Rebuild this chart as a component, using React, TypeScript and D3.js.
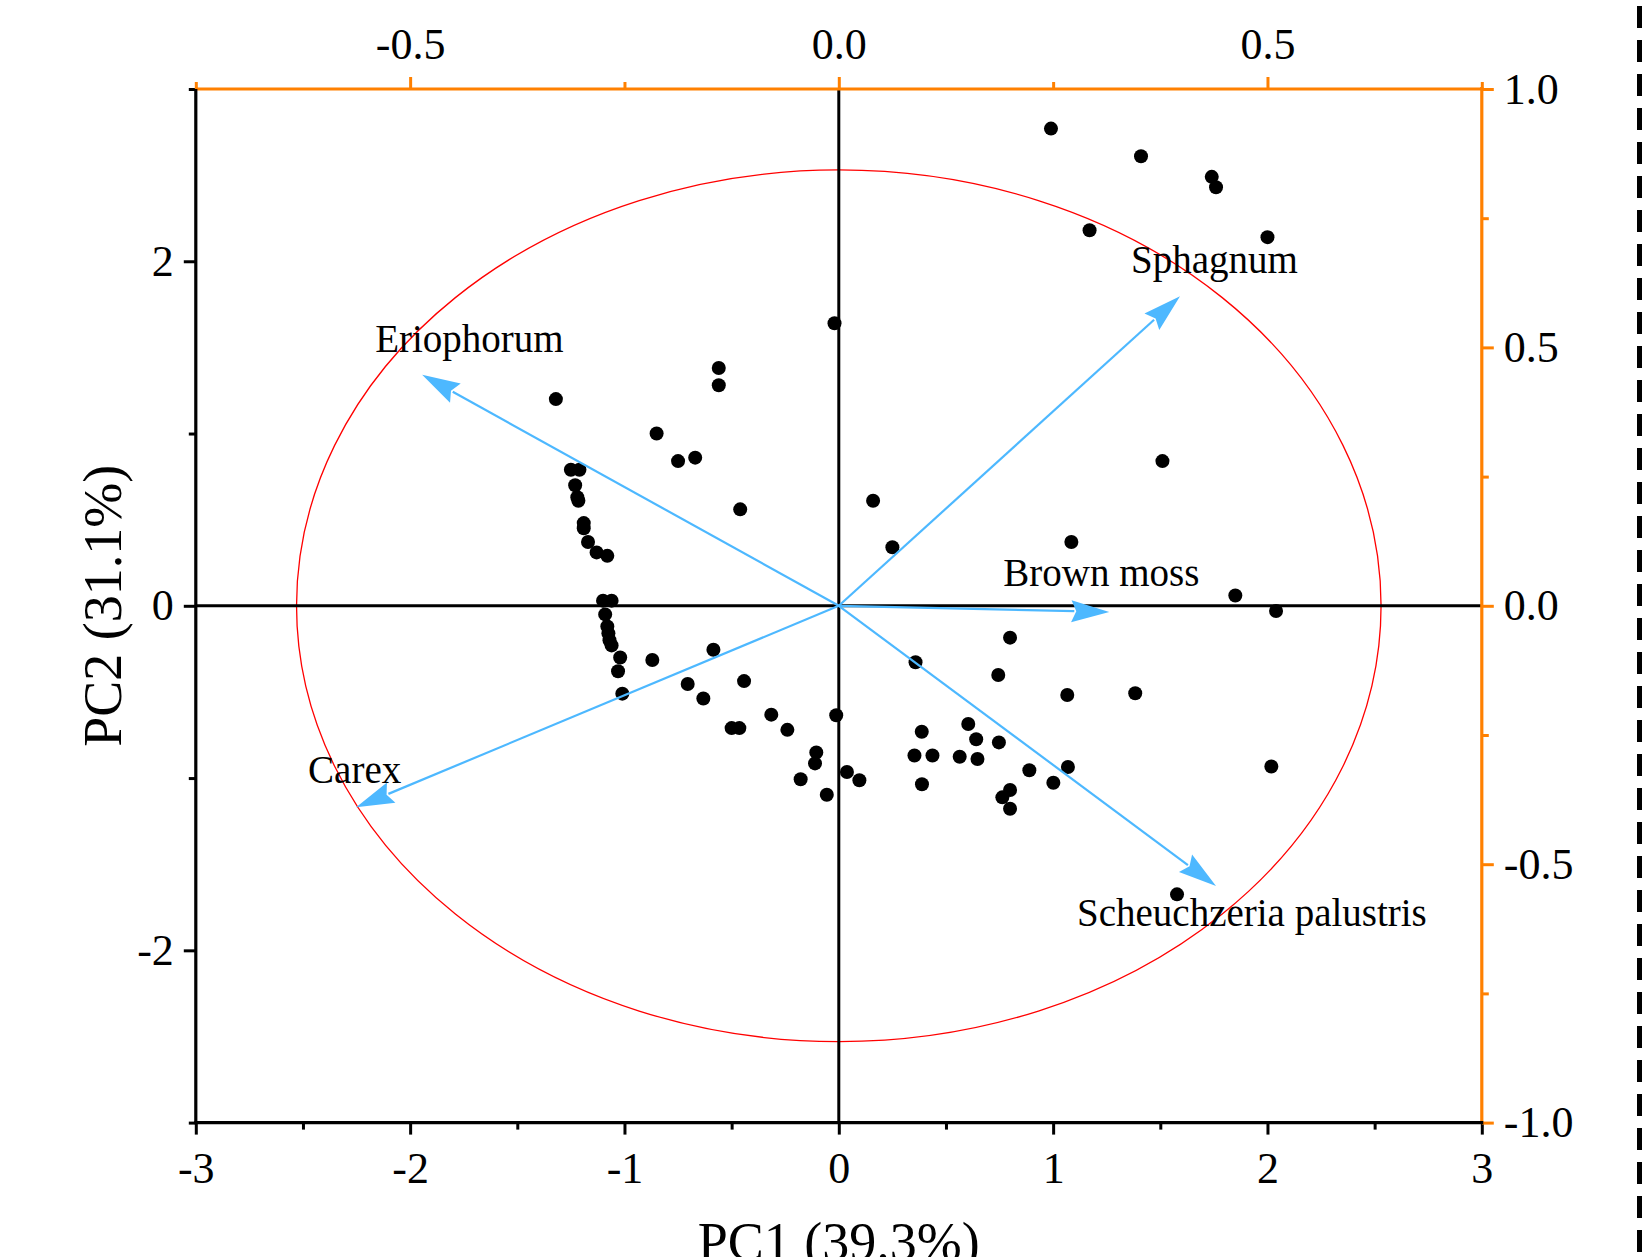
import React, { useEffect, useRef } from 'react';
import * as d3 from 'd3';

// sample scores (PC1, PC2)
const pc1Scores = [
  0.99, 1.41, 1.74, 1.76, 1.17, 2.0,
  -0.02, -0.56, -0.56, -1.32, -0.85, -0.75, -0.67,
  -1.25, -1.21, -1.23, -1.22, -1.215, -0.46, -1.19, -1.19, -1.17, -1.13, -1.08,
  0.16, 0.25, 1.51, 1.085, 1.85, 2.04,
  -1.1, -1.06, -1.09, -1.08, -1.075, -1.07, -1.06, -1.02, -1.03, -1.01,
  -0.87, -0.585, -0.705, -0.632, -0.442,
  -0.5, -0.464, -0.315, -0.24, -0.012, -0.105, -0.111, -0.178, -0.056, 0.038, 0.096,
  0.358, 0.387, 0.353, 0.437, 0.388, 0.564, 0.604, 0.641, 0.647, 0.747, 0.744, 0.799,
  0.889, 0.799, 0.763, 0.799, 1.001, 1.069, 1.066, 1.383, 2.018, 1.578,
];
const pc2Scores = [
  2.77, 2.61, 2.49, 2.43, 2.18, 2.14,
  1.64, 1.38, 1.28, 1.2, 1.0, 0.84, 0.86,
  0.79, 0.79, 0.7, 0.63, 0.61, 0.56, 0.48, 0.45, 0.37, 0.31, 0.29,
  0.61, 0.34, 0.84, 0.37, 0.06, -0.03,
  0.03, 0.03, -0.05, -0.12, -0.16, -0.2, -0.23, -0.3, -0.38, -0.51,
  -0.315, -0.255, -0.454, -0.538, -0.437,
  -0.71, -0.71, -0.632, -0.72, -0.635, -0.851, -0.915, -1.007, -1.097, -0.965, -1.013,
  -0.328, -0.731, -0.869, -0.869, -1.036, -0.876, -0.686, -0.775, -0.889, -0.793, -0.402, -0.185,
  -0.955, -1.069, -1.112, -1.178, -1.027, -0.936, -0.518, -0.508, -0.933, -1.675,
];

// species loadings (top / right axes)
const species = ['Sphagnum', 'Eriophorum', 'Brown moss', 'Carex', 'Scheuchzeria palustris'];
const loadingPC1 = [0.398, -0.486, 0.3155, -0.563, 0.44];
const loadingPC2 = [0.599, 0.447, -0.012, -0.39, -0.542];

const xTicks = [-3, -2, -1, 0, 1, 2, 3];
const xMinor = [-2.5, -1.5, -0.5, 0.5, 1.5, 2.5];
const yTicks = [-2, 0, 2];
const yMinor = [-3, -1, 1, 3];
const topTicks = [-0.5, 0, 0.5];
const topMinor = [-0.75, -0.25, 0.25, 0.75];
const rightTicks = [-1, -0.5, 0, 0.5, 1];
const rightMinor = [-0.75, -0.25, 0.25, 0.75];
const circleRadius = 2.53;

const W = 1642;
const H = 1257;
const left = 195.8, right = 1481.8, top = 89, bottom = 1122.6;
const FONT = '"Liberation Serif", "Times New Roman", serif';
const ORANGE = '#ff8000';
const BLUE = '#4db8ff';

// label offsets from arrow tips (pixels)
const labelOffsets = [[-49, -23], [-47, -23], [-106, -26], [-48, -24], [-139, 40]];

// plain hyphen instead of d3's unicode minus
const fmtInt = (d) => String(d);
const fmtOne = (d) => d3.format('.1f')(d).replace('\u2212', '-');

export default function App() {
  const ref = useRef<SVGSVGElement>(null);

  useEffect(() => {
    const svg = d3.select(ref.current);
    svg.selectAll('*').remove();

    const x = d3.scaleLinear().domain([-3, 3]).range([left, right]);
    const y = d3.scaleLinear().domain([-3, 3]).range([bottom, top]);
    const xTop = d3.scaleLinear().domain([-0.75, 0.75]).range([left, right]);
    const yRight = d3.scaleLinear().domain([-1, 1]).range([bottom, top]);

    // correlation circle
    svg.append('ellipse')
      .attr('cx', x(0)).attr('cy', y(0))
      .attr('rx', x(circleRadius) - x(0))
      .attr('ry', y(0) - y(circleRadius))
      .attr('fill', 'none')
      .attr('stroke', '#ff0000')
      .attr('stroke-width', 1.3);

    // zero lines
    svg.append('line')
      .attr('x1', x(0)).attr('x2', x(0)).attr('y1', top).attr('y2', bottom)
      .attr('stroke', '#000').attr('stroke-width', 3);
    svg.append('line')
      .attr('x1', left).attr('x2', right).attr('y1', y(0)).attr('y2', y(0))
      .attr('stroke', '#000').attr('stroke-width', 3);

    // sample points
    svg.append('g').selectAll('circle')
      .data(pc1Scores.map((v, i) => [v, pc2Scores[i]]))
      .enter()
      .append('circle')
      .attr('cx', d => x(d[0]))
      .attr('cy', d => y(d[1]))
      .attr('r', 7)
      .attr('fill', '#000');

    // species arrows
    const arrows = svg.append('g');
    species.forEach((name, i) => {
      const x0 = xTop(0), y0 = yRight(0);
      const x1 = xTop(loadingPC1[i]), y1 = yRight(loadingPC2[i]);
      const ang = Math.atan2(y1 - y0, x1 - x0);
      const len = 38, half = 11;
      const bx = x1 - len * Math.cos(ang), by = y1 - len * Math.sin(ang);
      arrows.append('line')
        .attr('x1', x0).attr('y1', y0).attr('x2', bx + 3 * Math.cos(ang)).attr('y2', by + 3 * Math.sin(ang))
        .attr('stroke', BLUE).attr('stroke-width', 2.2);
      const pts = [
        [x1, y1],
        [bx - half * Math.sin(ang), by + half * Math.cos(ang)],
        [bx + 5 * Math.cos(ang), by + 5 * Math.sin(ang)],
        [bx + half * Math.sin(ang), by - half * Math.cos(ang)],
      ];
      arrows.append('polygon')
        .attr('points', pts.map(p => p.join(',')).join(' '))
        .attr('fill', BLUE);
      svg.append('text')
        .attr('x', x1 + labelOffsets[i][0])
        .attr('y', y1 + labelOffsets[i][1])
        .attr('font-family', FONT)
        .attr('font-size', 39)
        .attr('fill', '#000')
        .text(name);
    });

    const styleAxis = (g, color, fontSize) => {
      g.select('.domain').remove();
      g.selectAll('line').attr('stroke', color).attr('stroke-width', 3);
      g.selectAll('text').attr('font-family', FONT).attr('font-size', fontSize).attr('fill', '#000');
    };

    // bottom axis
    const gb = svg.append('g').attr('transform', `translate(0,${bottom})`)
      .call(d3.axisBottom(x).tickValues(xTicks).tickSize(12).tickPadding(17).tickFormat(fmtInt));
    styleAxis(gb, '#000', 44);
    const gbm = svg.append('g').attr('transform', `translate(0,${bottom})`)
      .call(d3.axisBottom(x).tickValues(xMinor).tickSize(7).tickFormat(() => ''));
    styleAxis(gbm, '#000', 44);

    // left axis
    const gl = svg.append('g').attr('transform', `translate(${left},0)`)
      .call(d3.axisLeft(y).tickValues(yTicks).tickSize(12).tickPadding(10).tickFormat(fmtInt));
    styleAxis(gl, '#000', 44);
    const glm = svg.append('g').attr('transform', `translate(${left},0)`)
      .call(d3.axisLeft(y).tickValues(yMinor).tickSize(7).tickFormat(() => ''));
    styleAxis(glm, '#000', 44);

    // top axis (loadings)
    const gt = svg.append('g').attr('transform', `translate(0,${top})`)
      .call(d3.axisTop(xTop).tickValues(topTicks).tickSize(12).tickPadding(18).tickFormat(fmtOne));
    styleAxis(gt, ORANGE, 44);
    const gtm = svg.append('g').attr('transform', `translate(0,${top})`)
      .call(d3.axisTop(xTop).tickValues(topMinor).tickSize(7).tickFormat(() => ''));
    styleAxis(gtm, ORANGE, 44);

    // right axis (loadings)
    const gr = svg.append('g').attr('transform', `translate(${right},0)`)
      .call(d3.axisRight(yRight).tickValues(rightTicks).tickSize(12).tickPadding(10).tickFormat(fmtOne));
    styleAxis(gr, ORANGE, 44);
    const grm = svg.append('g').attr('transform', `translate(${right},0)`)
      .call(d3.axisRight(yRight).tickValues(rightMinor).tickSize(7).tickFormat(() => ''));
    styleAxis(grm, ORANGE, 44);

    // frame lines
    svg.append('line').attr('x1', left).attr('x2', right).attr('y1', top).attr('y2', top)
      .attr('stroke', ORANGE).attr('stroke-width', 3.2);
    svg.append('line').attr('x1', right).attr('x2', right).attr('y1', top - 2).attr('y2', bottom)
      .attr('stroke', ORANGE).attr('stroke-width', 3.2);
    svg.append('line').attr('x1', left).attr('x2', left).attr('y1', top).attr('y2', bottom + 1.5)
      .attr('stroke', '#000').attr('stroke-width', 3.2);
    svg.append('line').attr('x1', left - 1.5).attr('x2', right + 1.5).attr('y1', bottom).attr('y2', bottom)
      .attr('stroke', '#000').attr('stroke-width', 3.2);

    // axis titles
    svg.append('text')
      .attr('x', x(0)).attr('y', 1260)
      .attr('text-anchor', 'middle')
      .attr('font-family', FONT).attr('font-size', 54)
      .text('PC1 (39.3%)');
    svg.append('text')
      .attr('transform', `translate(121,${y(0)}) rotate(-90)`)
      .attr('text-anchor', 'middle')
      .attr('font-family', FONT).attr('font-size', 54)
      .text('PC2 (31.1%)');

    // dashed page edge
    svg.append('line')
      .attr('x1', 1639.5).attr('x2', 1639.5).attr('y1', 6).attr('y2', H)
      .attr('stroke', '#000').attr('stroke-width', 5)
      .attr('stroke-dasharray', '22 12');
  }, []);

  return (
    <svg ref={ref} width={W} height={H}
      style={{ position: 'absolute', left: 0, top: 0, background: '#fff' }} />
  );
}
